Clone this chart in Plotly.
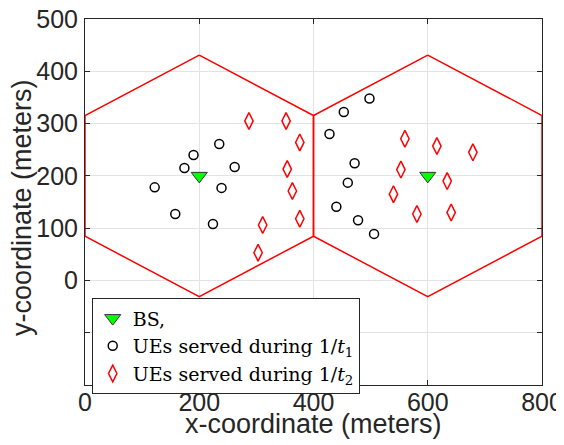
import math
import plotly.graph_objects as go

# ---- data ----
bs_x = [200, 600]
bs_y = [200, 200]
cell_radius = 400 / math.sqrt(3)

ue1_x = [235, 190, 174, 262, 122, 239, 158, 224, 498, 453, 428, 472, 460, 440, 478, 506]
ue1_y = [261, 240, 215, 217, 178, 177, 127, 108, 348, 322, 280, 224, 187, 141, 115, 89]

ue2_x = [287, 352, 376, 354, 363, 376, 311, 303, 560, 616, 679, 553, 634, 540, 581, 641]
ue2_y = [305, 305, 264, 213, 171, 118, 106, 53, 271, 257, 245, 212, 190, 165, 127, 130]

x_ticks = [0, 200, 400, 600, 800]
y_ticks = [-200, -100, 0, 100, 200, 300, 400, 500]
y_ticktext = ["", "", "0", "100", "200", "300", "400", "500"]

fig = go.Figure()

# hexagonal cells
for cx, cy in zip(bs_x, bs_y):
    hx, hy = [], []
    for k in range(7):
        a = math.radians(90 + 60 * k)
        hx.append(cx + cell_radius * math.cos(a))
        hy.append(cy + cell_radius * math.sin(a))
    fig.add_trace(go.Scatter(x=hx, y=hy, mode="lines",
                             line=dict(color="#ff0000", width=1.5),
                             showlegend=False, hoverinfo="skip"))

fig.add_trace(go.Scatter(x=bs_x, y=bs_y, mode="markers", name="BS,",
                         marker=dict(symbol="triangle-down", size=14, color="#00ff00",
                                     line=dict(width=1, color="#333333"))))
fig.add_trace(go.Scatter(x=ue1_x, y=ue1_y, mode="markers",
                         name="UEs served during 1/<i>t</i><sub>1</sub>",
                         marker=dict(symbol="circle-open", size=9, color="black",
                                     line=dict(width=1.5, color="black"))))
fig.add_trace(go.Scatter(x=ue2_x, y=ue2_y, mode="markers",
                         name="UEs served during 1/<i>t</i><sub>2</sub>",
                         marker=dict(symbol="diamond-tall-open", size=12, color="#ff0000",
                                     line=dict(width=1.5, color="#ff0000"))))

sans = "Liberation Sans, Arial, sans-serif"
axis_common = dict(showline=True, linecolor="#262626", linewidth=1, mirror="ticks",
                   ticks="inside", ticklen=5, tickcolor="#262626", automargin=False,
                   ticklabeloverflow="allow",
                   showgrid=True, gridcolor="#e3e3e3", gridwidth=1, zeroline=False,
                   tickfont=dict(family=sans, size=25, color="#262626"))

fig.update_xaxes(range=[0, 800], tickvals=x_ticks, ticklabelstandoff=-5, **axis_common)
fig.update_yaxes(range=[-200, 500], tickvals=y_ticks, ticktext=y_ticktext,
                 ticklabelstandoff=1, **axis_common)

# axis titles
fig.add_annotation(text="x-coordinate (meters)", xref="paper", yref="paper",
                   x=0.5, y=-0.1066, xanchor="center", yanchor="middle", showarrow=False,
                   font=dict(family=sans, size=27, color="#262626"))
fig.add_annotation(text="y-coordinate (meters)", xref="paper", yref="paper",
                   x=-0.1379, y=0.486, xanchor="center", yanchor="middle", showarrow=False,
                   textangle=-90, font=dict(family=sans, size=27, color="#262626"))

fig.update_layout(
    width=556, height=437,
    margin=dict(l=77, r=22, t=11, b=60),
    plot_bgcolor="white", paper_bgcolor="white",
    legend=dict(x=0.0147, y=0.237, xanchor="left", yanchor="top",
                traceorder="normal",
                bgcolor="white", bordercolor="#262626", borderwidth=1,
                font=dict(family="DejaVu Serif, serif", size=19, color="black"),
                itemwidth=30, tracegroupgap=0),
)

fig.write_html("out.html")
